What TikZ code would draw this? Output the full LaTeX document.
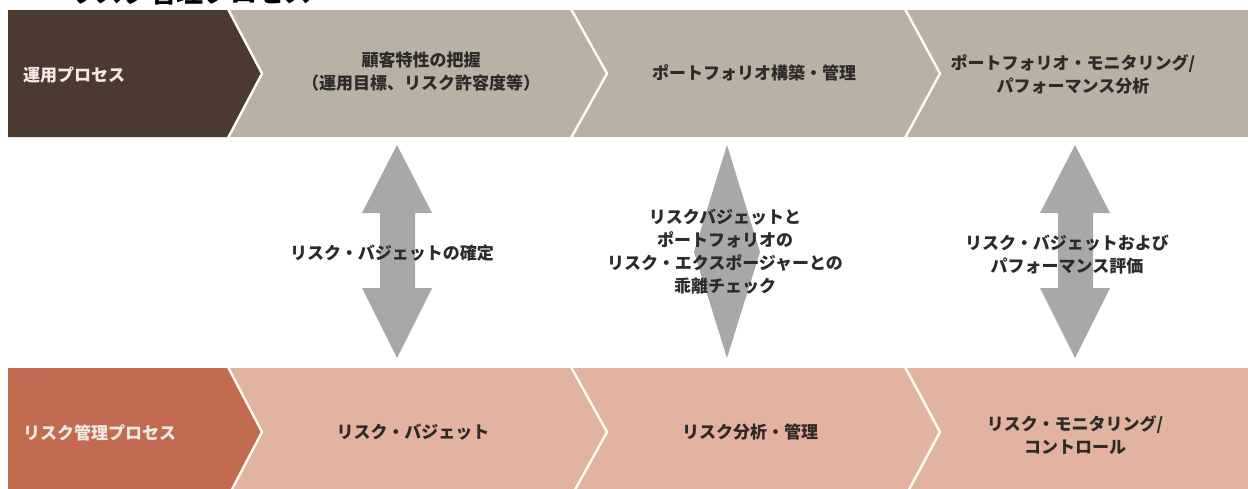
\documentclass[tikz,border=0pt]{standalone}
\usepackage{fontspec}
\setmainfont{Noto Sans CJK JP}
\definecolor{darkbrown}{HTML}{4B3A2F}
\definecolor{taupe}{HTML}{B9B1A3}
\definecolor{rust}{HTML}{C26B50}
\definecolor{salmon}{HTML}{E3B3A1}
\definecolor{arrowgray}{HTML}{A8A8AB}
\definecolor{txtdark}{HTML}{2E2A28}
\definecolor{txtlight}{HTML}{F3ECE6}
\begin{document}
\begin{tikzpicture}[x=1pt,y=-1pt,
  sep/.style={draw=white!96!yellow,line width=2.4pt},
  lbl/.style={text=txtdark,font=\fontsize{17}{23}\selectfont\bfseries,align=center,inner sep=0pt},
  hdr/.style={text=txtlight,font=\fontsize{17}{23}\selectfont\bfseries,anchor=west,inner sep=0pt},
  blk/.style={fill=arrowgray}]
\useasboundingbox (0,0) rectangle (1248,488);
\clip (0,0) rectangle (1248,488);
\fill[white] (0,0) rectangle (1248,488);
% clipped title
\node[anchor=base west,inner sep=0pt,font=\fontsize{27}{27}\selectfont\bfseries] (title) at (68,2) {リスク管理プロセス};
% top band
\fill[taupe] (8,10) rectangle (1248,137);
\fill[darkbrown] (8,10) -- (228,10) -- (262,73.5) -- (228,137) -- (8,137) -- cycle;
\draw[sep] (228,9) -- (262,73.5) -- (228,138);
\draw[sep] (571,9) -- (607,73.5) -- (571,138);
\draw[sep] (905,9) -- (940,73.5) -- (905,138);
% bottom band
\fill[salmon] (8,368) rectangle (1248,496);
\fill[rust] (8,368) -- (228,368) -- (262,432) -- (228,496) -- (8,496) -- cycle;
\draw[sep] (228,367) -- (262,432) -- (228,497);
\draw[sep] (571,367) -- (607,432) -- (571,497);
\draw[sep] (905,367) -- (940,432) -- (905,497);
% block arrows
\fill[blk] (397,145) -- (432,213) -- (415,213) -- (415,288) -- (432,288) -- (397,358)
  -- (362,288) -- (380,288) -- (380,213) -- (362,213) -- cycle;
\fill[blk] (727,145) -- (760,252) -- (727,358) -- (694,252) -- cycle;
\fill[blk] (1075,145) -- (1110,213) -- (1093,213) -- (1093,288) -- (1110,288) -- (1075,358)
  -- (1040,288) -- (1058,288) -- (1058,213) -- (1040,213) -- cycle;
% top labels
\node[hdr] (op) at (23,75) {運用プロセス};
\node[lbl] (t1) at (421,72) {顧客特性の把握\\（運用目標、リスク許容度等）};
\node[lbl] (t2) at (754,73) {ポートフォリオ構築・管理};
\node[lbl] (t3) at (1073,74) {ポートフォリオ・モニタリング/\\パフォーマンス分析};
% bottom labels
\node[hdr] (rk) at (23,433) {リスク管理プロセス};
\node[lbl] (b1) at (413,432) {リスク・バジェット};
\node[lbl] (b2) at (750,432) {リスク分析・管理};
\node[lbl] (b3) at (1075,435) {リスク・モニタリング/\\コントロール};
% middle labels
\node[lbl] (m1) at (392,253) {リスク・バジェットの確定};
\node[lbl] (m2) at (725,252) {リスクバジェットと\\ポートフォリオの\\リスク・エクスポージャーとの\\乖離チェック};
\node[lbl] (m3) at (1067,255) {リスク・バジェットおよび\\パフォーマンス評価};
\end{tikzpicture}
\end{document}
